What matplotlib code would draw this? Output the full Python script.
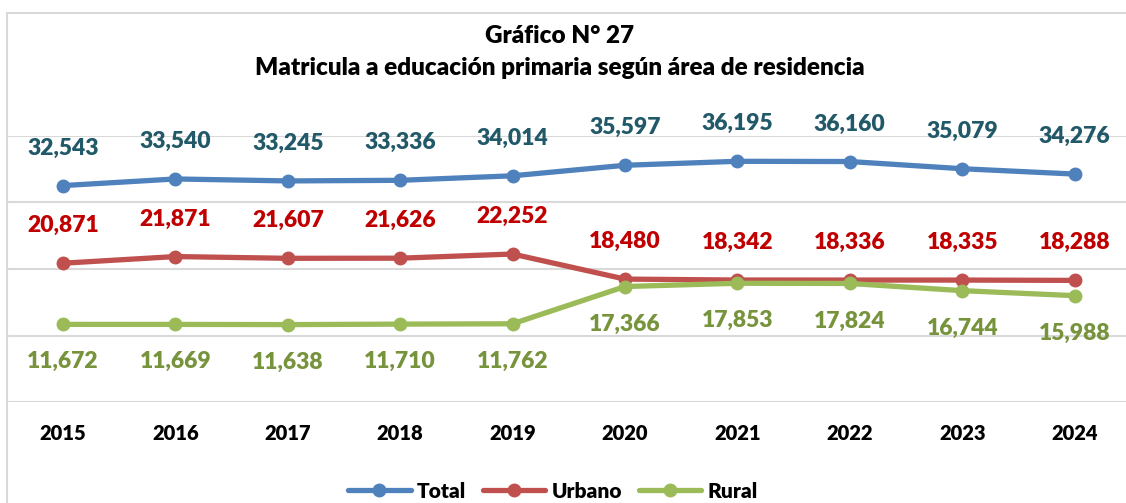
import matplotlib
matplotlib.use("Agg")
import matplotlib.pyplot as plt
from matplotlib.lines import Line2D

years = ["2015", "2016", "2017", "2018", "2019", "2020", "2021", "2022", "2023", "2024"]
total = [32543, 33540, 33245, 33336, 34014, 35597, 36195, 36160, 35079, 34276]
urbano = [20871, 21871, 21607, 21626, 22252, 18480, 18342, 18336, 18335, 18288]
rural = [11672, 11669, 11638, 11710, 11762, 17366, 17853, 17824, 16744, 15988]

plt.rcParams["font.family"] = ["Lato", "DejaVu Sans"]
WEIGHT = "heavy"

W, H = 1126, 503
fig = plt.figure(figsize=(W / 100, H / 100), dpi=100)

# outer chart border (cropped on right and bottom)
border = "#D9D9D9"
fig.add_artist(Line2D([7 / W, 7 / W], [0, 1 - 13 / H], color=border, lw=1.5))
fig.add_artist(Line2D([7 / W, 1], [1 - 13 / H, 1 - 13 / H], color=border, lw=1.5))

ax = fig.add_axes([7 / W, 1 - 402 / H, 1 - 7 / W, (402 - 136) / H])
x = list(range(len(years)))

series = [
    ("Total", total, "#4F81BD", "#215968", 1),
    ("Urbano", urbano, "#C0504D", "#C00000", 1),
    ("Rural", rural, "#9BBB59", "#77933C", -1),
]

for name, vals, lc, tc, side in series:
    ax.plot(x, vals, color=lc, lw=3.8, marker="o", markersize=9, label=name,
            solid_capstyle="round", zorder=3, clip_on=False)
    for xi, v in zip(x, vals):
        ax.annotate(f"{v:,}", (xi, v), xytext=(0, 27 * side), textcoords="offset points",
                    ha="center", va="center", color=tc, fontsize=16.5, fontweight=WEIGHT)

ax.set_xlim(-0.498, 9.457)
ax.set_ylim(0, 40000)
ax.set_yticks([0, 10000, 20000, 30000, 40000])
ax.set_yticklabels([])
ax.tick_params(axis="y", length=0)
ax.set_xticks(x)
ax.set_xticklabels(years, fontsize=14.5, fontweight=WEIGHT, color="black")
ax.tick_params(axis="x", length=0, pad=16)
ax.grid(axis="y", color=border, lw=1.5, zorder=0)
for s in ax.spines.values():
    s.set_visible(False)

fig.text(560 / W, 1 - 36 / H, "Gráfico N° 27", ha="center", va="center",
         fontsize=17.5, fontweight=WEIGHT)
fig.text(560 / W, 1 - 68 / H, "Matricula a educación primaria según área de residencia",
         ha="center", va="center", fontsize=17.5, fontweight=WEIGHT)

fig.legend(loc="center", bbox_to_anchor=(553 / W, 1 - 491 / H), ncol=3, frameon=False,
           handlelength=3.0, columnspacing=0.8, handletextpad=0.3,
           prop={"size": 15, "weight": WEIGHT})

fig.savefig("out.png", dpi=100)
